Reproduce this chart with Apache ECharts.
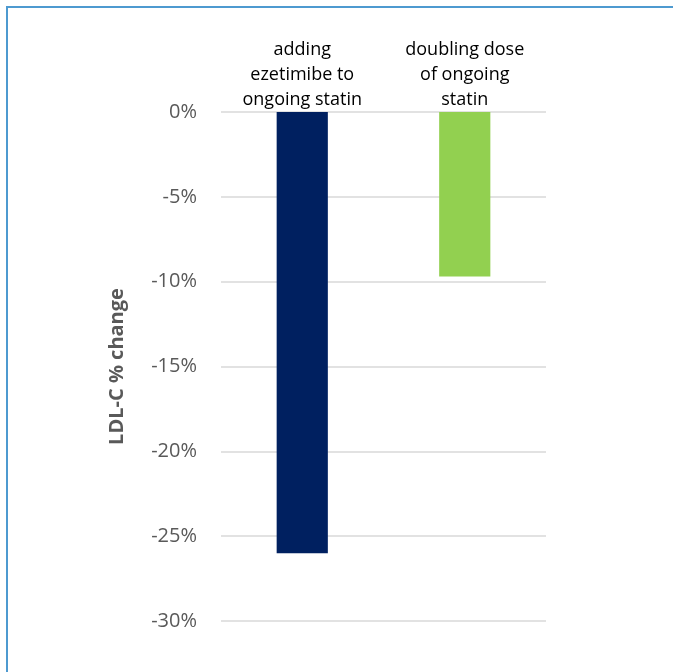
<!DOCTYPE html>
<html>
<head>
<meta charset="utf-8">
<script src="https://cdn.jsdelivr.net/npm/echarts@6/dist/echarts.min.js"></script>
<style>
  html, body { margin: 0; padding: 0; background: #fff; }
  #chart { width: 673px; height: 672px; }
</style>
</head>
<body>
<div id="chart"></div>
<script>
// LDL-C response by treatment strategy
const categories = ['adding\nezetimibe to\nongoing statin', 'doubling dose\nof ongoing\nstatin'];
const ldlChange = [-26.0, -9.7];
const barColors = ['#002060', '#92D050'];
const yTicks = { min: -30, max: 0, interval: 5 };

const chart = echarts.init(document.getElementById('chart'), null, { renderer: 'canvas' });

chart.setOption({
  animation: false,
  backgroundColor: '#ffffff',
  grid: { left: 221, right: 127, top: 112, bottom: 51 },
  graphic: [{
    type: 'rect',
    shape: { x: 7, y: 7, width: 720, height: 720 },
    style: { fill: 'none', stroke: '#4E9AD0', lineWidth: 2 },
    silent: true
  }],
  xAxis: {
    type: 'category',
    position: 'top',
    data: categories,
    axisLine: { show: false },
    axisTick: { show: false },
    axisLabel: {
      color: '#000000',
      fontFamily: 'Open Sans',
      fontSize: 18,
      lineHeight: 25,
      margin: 0,
      interval: 0
    }
  },
  yAxis: {
    type: 'value',
    min: yTicks.min,
    max: yTicks.max,
    interval: yTicks.interval,
    name: 'LDL-C % change',
    nameLocation: 'middle',
    nameGap: 94,
    nameTextStyle: { color: '#595959', fontFamily: 'Open Sans', fontSize: 20, fontWeight: 'bold' },
    axisLine: { show: false },
    axisTick: { show: false },
    axisLabel: {
      color: '#595959',
      fontFamily: 'Open Sans',
      fontSize: 20,
      margin: 24,
      formatter: v => v + '%'
    },
    splitLine: { lineStyle: { color: '#D9D9D9', width: 1.5 } }
  },
  series: [{
    type: 'bar',
    data: ldlChange.map((v, i) => ({ value: v, itemStyle: { color: barColors[i] } })),
    barWidth: '31.5%'
  }]
});
</script>
</body>
</html>
